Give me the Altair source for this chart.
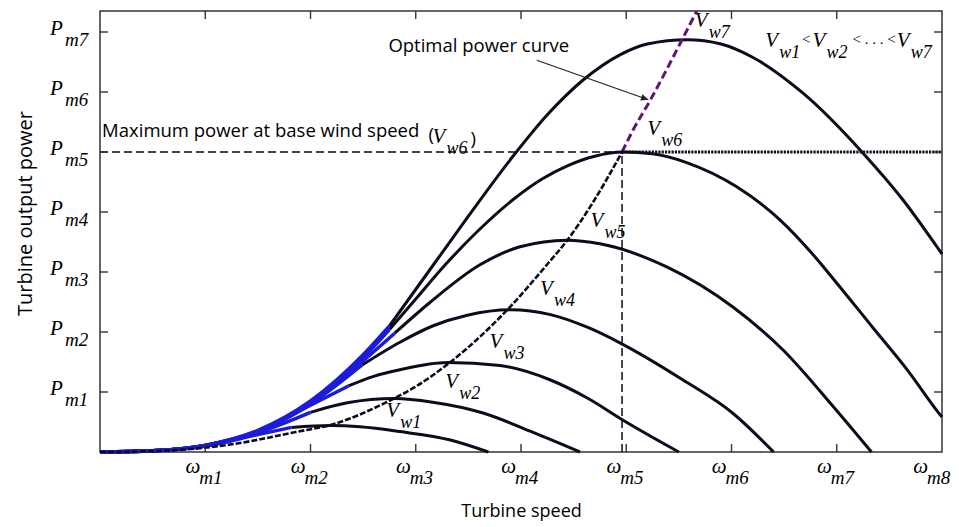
import altair as alt
import pandas as pd

# ---------------- data ----------------
X_MAX = 8.0      # turbine speed axis, in units of omega_m spacing
Y_MAX = 7.35     # power axis, in units of P_m spacing

x_ticks = [1, 2, 3, 4, 5, 6, 7, 8]
x_subs = ["m1", "m2", "m3", "m4", "m5", "m6", "m7", "m8"]
y_ticks = [1, 2, 3, 4, 5, 6, 7]
y_subs = ["m1", "m2", "m3", "m4", "m5", "m6", "m7"]

curve_names = ["Vw1", "Vw2", "Vw3", "Vw4", "Vw5", "Vw6", "Vw7"]
curve_w = [
    [0, 0.5, 1.0, 1.5, 1.82, 2.19, 2.47, 2.85, 3.33, 3.69],
    [0, 0.5, 1.0, 1.5, 2.0, 2.35, 2.8, 3.16, 3.64, 4.11, 4.56],
    [0, 0.5, 1.0, 1.5, 2.0, 2.36, 2.6, 2.85, 3.3, 3.8, 4.28, 4.63, 4.97, 5.5],
    [0, 0.5, 1.0, 1.5, 2.0, 2.49, 2.85, 3.16, 3.49, 3.9, 4.28, 4.63, 4.94, 5.54, 6.01, 6.4],
    [0, 0.5, 1.0, 1.5, 2.0, 2.5, 2.8, 3.14, 3.61, 3.99, 4.44, 4.75, 5.39, 6.01, 6.49, 6.97, 7.33],
    [0, 0.5, 1.0, 1.5, 2.0, 2.5, 2.75, 3.0, 3.28, 3.6, 3.92, 4.2, 4.44, 4.7, 4.97, 5.25, 5.58,
     6.05, 6.46, 6.77, 6.97, 7.34, 7.67, 7.96, 8.0],
    [0, 0.5, 1.0, 1.5, 2.0, 2.5, 2.75, 3.18, 3.5, 3.92, 4.25, 4.59, 4.94, 5.2, 5.58, 5.9, 6.2,
     6.68, 7.25, 7.63, 7.96, 8.0],
]
curve_p = [
    [0, 0.02, 0.1, 0.29, 0.41, 0.44, 0.42, 0.34, 0.2, 0],
    [0, 0.02, 0.1, 0.32, 0.66, 0.82, 0.89, 0.83, 0.65, 0.33, 0],
    [0, 0.02, 0.1, 0.33, 0.78, 1.1, 1.26, 1.37, 1.49, 1.44, 1.2, 0.9, 0.53, 0],
    [0, 0.02, 0.11, 0.34, 0.8, 1.45, 1.83, 2.1, 2.28, 2.37, 2.29, 2.08, 1.82, 1.2, 0.65, 0],
    [0, 0.02, 0.11, 0.35, 0.82, 1.52, 1.98, 2.5, 3.12, 3.42, 3.53, 3.47, 3.08, 2.42, 1.7, 0.75, 0],
    [0, 0.02, 0.11, 0.35, 0.83, 1.57, 2.04, 2.55, 3.12, 3.7, 4.2, 4.55, 4.77, 4.93, 5.0, 4.97, 4.82,
     4.42, 3.87, 3.3, 2.88, 2.08, 1.37, 0.67, 0.58],
    [0, 0.02, 0.11, 0.36, 0.85, 1.62, 2.1, 3.15, 3.93, 4.92, 5.62, 6.2, 6.62, 6.8, 6.87, 6.8, 6.58,
     5.98, 4.98, 4.2, 3.4, 3.3],
]
# where each curve leaves the common (blue) rising envelope
blue_until = [1.82, 2.0, 2.36, 2.49, 2.8, 2.75, 2.75]

# optimal power curve
opt_w = [0, 0.6, 1.22, 1.85, 2.23, 2.71, 2.99, 3.33, 3.87, 4.26, 4.44, 4.68, 4.96]
opt_p = [0, 0.02, 0.12, 0.33, 0.47, 0.82, 1.08, 1.5, 2.37, 3.15, 3.53, 4.15, 5.0]
opt_hi_w = [4.96, 5.06, 5.23, 5.53, 5.67]
opt_hi_p = [5.0, 5.35, 5.87, 6.87, 7.35]

base_w, base_p = 4.96, 5.0   # max power at base wind speed

# annotation anchors (data units)
v_label_sub = ["w1", "w2", "w3", "w4", "w5", "w6", "w7", "w6", "w1", "w2", "w7"]
v_label_w = [2.72, 3.28, 3.70, 4.18, 4.66, 5.20, 5.65, 3.16, 6.32, 6.77, 7.57]
v_label_p = [0.58, 1.07, 1.73, 2.62, 3.75, 5.28, 7.08, 5.15, 6.75, 6.75, 6.75]

sans_text = ["Maximum power at base wind speed", "(", ")", "Optimal power curve"]
sans_w = [0.02, 3.12, 3.52, 2.74]
sans_p = [5.25, 5.18, 5.12, 6.67]

lt_text = ["<", "< . . . <"]
lt_w = [6.67, 7.15]
lt_p = [6.80, 6.80]

arrow_w = [4.15, 5.21]
arrow_p = [6.53, 5.87]

TICK_W = 0.076   # 8 px inward tick, in x data units
TICK_P = 0.133   # 8 px inward tick, in y data units

# ---------------- build tables ----------------
rows = []
for name, ws, ps, b in zip(curve_names, curve_w, curve_p, blue_until):
    for i, (w, p) in enumerate(zip(ws, ps)):
        if w <= b + 1e-9:
            rows.append(dict(curve=name, part="blue", i=i, w=w, p=p))
        if w >= b - 1e-9:
            rows.append(dict(curve=name, part="black", i=i, w=w, p=p))
curves = pd.DataFrame(rows)
opt = pd.DataFrame({"w": opt_w, "p": opt_p, "i": range(len(opt_w))})
opt_hi = pd.DataFrame({"w": opt_hi_w, "p": opt_hi_p, "i": range(len(opt_hi_w))})

SERIF = "Liberation Serif"
SANS = "Open Sans"
BLACK = "#0c0c1c"
BLUE = "#1c1cd8"
PURPLE = "#5e1770"
FRAME = "#333333"

xs = alt.Scale(domain=[0, X_MAX], nice=False, zero=False)
ys = alt.Scale(domain=[0, Y_MAX], nice=False, zero=False)


def X(field="w", axis=None):
    return alt.X(f"{field}:Q", scale=xs, axis=axis)


def Y(field="p", axis=None):
    return alt.Y(f"{field}:Q", scale=ys, axis=axis)


ax_common = dict(grid=False, domain=False, labels=False, ticks=False)
ax_bottom = alt.Axis(orient="bottom", title="Turbine speed",
                     titleFont=SANS, titleFontSize=18, titleFontWeight="normal",
                     titleColor="black", titleX=421, titleY=64,
                     titleBaseline="alphabetic", titleAlign="center", **ax_common)
ax_left = alt.Axis(orient="left", title="Turbine output power",
                   titleFont=SANS, titleFontSize=20, titleFontWeight="normal",
                   titleColor="black", titleAngle=270, titleX=-75, titleY=202,
                   titleBaseline="middle", titleAlign="center", **ax_common)

black_lines = alt.Chart(curves).transform_filter("datum.part == 'black'").mark_line(
    color=BLACK, strokeWidth=3, interpolate="monotone").encode(
    x=X(axis=ax_bottom), y=Y(axis=ax_left), detail="curve:N", order="i:Q")

blue_lines = alt.Chart(curves).transform_filter("datum.part == 'blue'").mark_line(
    color=BLUE, strokeWidth=3.5, interpolate="monotone").encode(
    x=X(), y=Y(), detail="curve:N", order="i:Q")

opt_line = alt.Chart(opt).mark_line(
    color=BLACK, strokeWidth=2.6, strokeDash=[6, 2], interpolate="monotone").encode(
    x=X(), y=Y(), order="i:Q")

opt_hi_line = alt.Chart(opt_hi).mark_line(
    color=PURPLE, strokeWidth=3, strokeDash=[8, 4], interpolate="monotone").encode(
    x=X(), y=Y(), order="i:Q")

hdash = alt.Chart(pd.DataFrame({"w": [0], "w2": [base_w], "p": [base_p]})).mark_rule(
    color=BLACK, strokeWidth=1.5, strokeDash=[8, 4]).encode(
    x=X(), x2="w2:Q", y=Y())

hdot = alt.Chart(pd.DataFrame({"w": [base_w], "w2": [X_MAX], "p": [base_p]})).mark_rule(
    color=BLACK, strokeWidth=3.2, strokeDash=[2.2, 1.1], strokeCap="butt").encode(
    x=X(), x2="w2:Q", y=Y())

vdash = alt.Chart(pd.DataFrame({"w": [base_w], "p": [0], "p2": [base_p]})).mark_rule(
    color=BLACK, strokeWidth=1.5, strokeDash=[8, 4]).encode(
    x=X(), y=Y(), y2="p2:Q")

# inward tick marks on all four sides
xt_rows = []
for v in x_ticks[:-1]:
    xt_rows.append(dict(w=v, p=0, p2=TICK_P))
    xt_rows.append(dict(w=v, p=Y_MAX, p2=Y_MAX - TICK_P))
yt_rows = []
for v in y_ticks:
    yt_rows.append(dict(w=0, w2=TICK_W, p=v))
    yt_rows.append(dict(w=X_MAX, w2=X_MAX - TICK_W, p=v))
xtick_layer = alt.Chart(pd.DataFrame(xt_rows)).mark_rule(
    color=FRAME, strokeWidth=1.4).encode(x=X(), y=Y(), y2="p2:Q")
ytick_layer = alt.Chart(pd.DataFrame(yt_rows)).mark_rule(
    color=FRAME, strokeWidth=1.4).encode(x=X(), x2="w2:Q", y=Y())

arrow_df = pd.DataFrame({"w": arrow_w, "p": arrow_p, "i": [0, 1]})
arrow_line = alt.Chart(arrow_df).mark_line(color="#222222", strokeWidth=1.2).encode(
    x=X(), y=Y(), order="i:Q")
arrow_head = alt.Chart(arrow_df.iloc[[1]]).mark_point(
    shape="M0,0L-1,-0.45L-1,0.45Z", filled=True, color="#222222", size=220, angle=20,
    opacity=1).encode(x=X(), y=Y())

vlab = pd.DataFrame({"w": v_label_w, "p": v_label_p, "V": ["V"] * len(v_label_w),
                     "sub": v_label_sub})
v_main = alt.Chart(vlab).mark_text(
    align="left", baseline="alphabetic", font=SERIF, fontStyle="italic", fontSize=21,
    color="black").encode(x=X(), y=Y(), text="V:N")
v_sub = alt.Chart(vlab).mark_text(
    align="left", baseline="alphabetic", font=SERIF, fontStyle="italic", fontSize=18,
    color="black", dx=14, dy=11).encode(x=X(), y=Y(), text="sub:N")

sans_df = pd.DataFrame({"w": sans_w, "p": sans_p, "t": sans_text})
sans_layer = alt.Chart(sans_df).mark_text(
    align="left", baseline="alphabetic", font=SANS, fontSize=18.5, color="black").encode(
    x=X(), y=Y(), text="t:N")

lt_df = pd.DataFrame({"w": lt_w, "p": lt_p, "t": lt_text})
lt_layer = alt.Chart(lt_df).mark_text(
    align="left", baseline="alphabetic", font=SERIF, fontSize=15, color="black").encode(
    x=X(), y=Y(), text="t:N")

ylab = pd.DataFrame({"w": [0] * len(y_ticks), "p": y_ticks, "P": ["P"] * len(y_ticks),
                     "sub": y_subs})
ylab_main = alt.Chart(ylab).mark_text(
    align="left", baseline="alphabetic", font=SERIF, fontStyle="italic", fontSize=21,
    color="black", dx=-50, dy=3).encode(x=X(), y=Y(), text="P:N")
ylab_sub = alt.Chart(ylab).mark_text(
    align="left", baseline="alphabetic", font=SERIF, fontStyle="italic", fontSize=19,
    color="black", dx=-35, dy=14).encode(x=X(), y=Y(), text="sub:N")

xlab = pd.DataFrame({"w": x_ticks, "p": [0] * len(x_ticks), "om": ["ω"] * len(x_ticks),
                     "sub": x_subs})
xlab_inner = xlab[xlab.w < X_MAX]
xlab_last = xlab[xlab.w >= X_MAX]


def x_label_layers(df, shift):
    main = alt.Chart(df).mark_text(
        align="right", baseline="alphabetic", font=SERIF, fontStyle="italic", fontSize=21,
        color="black", dx=-5 + shift, dy=21).encode(x=X(), y=Y(), text="om:N")
    sub = alt.Chart(df).mark_text(
        align="left", baseline="alphabetic", font=SERIF, fontStyle="italic", fontSize=19,
        color="black", dx=-6 + shift, dy=32).encode(x=X(), y=Y(), text="sub:N")
    return [main, sub]


chart = alt.layer(
    black_lines, blue_lines, opt_line, opt_hi_line, hdash, hdot, vdash,
    xtick_layer, ytick_layer,
    arrow_line, arrow_head, v_main, v_sub, sans_layer, lt_layer,
    ylab_main, ylab_sub, *x_label_layers(xlab_inner, 0), *x_label_layers(xlab_last, -9),
).resolve_axis(x="independent", y="independent").properties(
    width=842, height=441,
    padding={"left": 92, "top": 3, "right": 9, "bottom": 75},
    autosize=alt.AutoSizeParams(type="none"),
    background="white",
).configure_view(stroke=FRAME, strokeWidth=1.5)

chart.save("out.html", embed_options={"renderer": "svg", "actions": False})
